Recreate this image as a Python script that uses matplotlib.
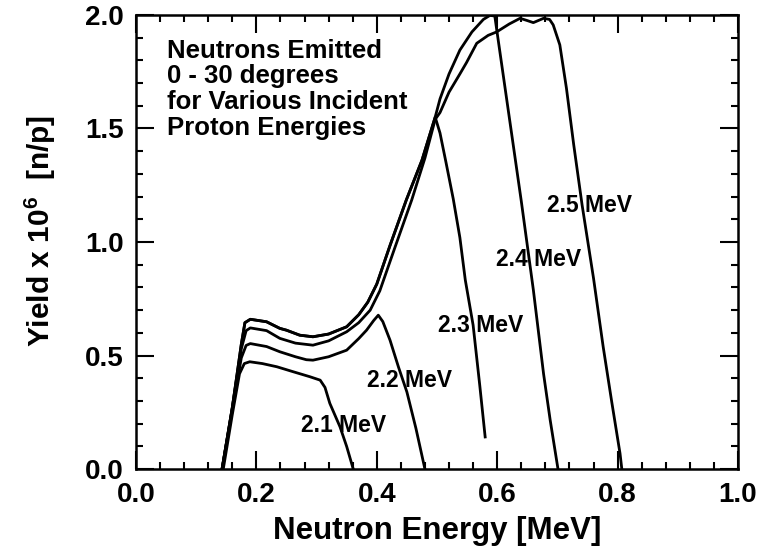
import matplotlib
matplotlib.use("Agg")
import matplotlib.pyplot as plt
from matplotlib.ticker import MultipleLocator

plt.rcParams["font.family"] = ["Liberation Sans", "DejaVu Sans"]
plt.rcParams["font.weight"] = "bold"
plt.rcParams["mathtext.fontset"] = "custom"
plt.rcParams["mathtext.rm"] = "Liberation Sans:bold"
plt.rcParams["mathtext.default"] = "rm"

# neutron yield spectra, 0-30 deg, per incident proton energy
e21 = [0.145, 0.160, 0.172, 0.180, 0.189, 0.210, 0.234, 0.260, 0.289, 0.306,
       0.314, 0.322, 0.339, 0.350, 0.361]
y21 = [0.0, 0.24, 0.42, 0.465, 0.473, 0.465, 0.451, 0.43, 0.407, 0.392,
       0.36, 0.29, 0.186, 0.10, 0.0]

e22 = [0.143, 0.160, 0.175, 0.183, 0.190, 0.217, 0.239, 0.265, 0.283, 0.294,
       0.320, 0.350, 0.370, 0.383, 0.395, 0.4025, 0.410, 0.422, 0.436, 0.450,
       0.465, 0.480]
y22 = [0.0, 0.26, 0.49, 0.545, 0.553, 0.54, 0.517, 0.495, 0.482, 0.48,
       0.495, 0.524, 0.575, 0.612, 0.655, 0.678, 0.65, 0.568, 0.45, 0.34,
       0.18, 0.0]

e23 = [0.143, 0.160, 0.175, 0.181, 0.190, 0.217, 0.239, 0.250, 0.272, 0.294,
       0.320, 0.350, 0.370, 0.385, 0.400, 0.422, 0.449, 0.475, 0.497,
       0.505, 0.515, 0.527, 0.538, 0.547, 0.560, 0.571, 0.580]
y23 = [0.0, 0.27, 0.55, 0.645, 0.66, 0.649, 0.62, 0.612, 0.59, 0.583,
       0.595, 0.627, 0.68, 0.735, 0.815, 0.985, 1.185, 1.36, 1.55,
       1.48, 1.35, 1.19, 1.02, 0.833, 0.634, 0.37, 0.142]

e24 = [0.143, 0.160, 0.175, 0.181, 0.190, 0.217, 0.239, 0.250, 0.272, 0.294,
       0.320, 0.350, 0.370, 0.385, 0.400, 0.422, 0.449, 0.475, 0.497,
       0.505, 0.520, 0.538, 0.558, 0.577, 0.588, 0.596, 0.600, 0.620, 0.640,
       0.660, 0.677, 0.688, 0.701]
y24 = [0.0, 0.27, 0.55, 0.645, 0.66, 0.649, 0.62, 0.612, 0.59, 0.583,
       0.595, 0.627, 0.68, 0.735, 0.815, 0.985, 1.185, 1.36, 1.55,
       1.63, 1.74, 1.845, 1.925, 1.98, 1.998, 1.995, 1.92, 1.55, 1.18,
       0.79, 0.42, 0.216, 0.0]

e25 = [0.143, 0.160, 0.175, 0.183, 0.190, 0.217, 0.239, 0.265, 0.294, 0.320,
       0.350, 0.370, 0.389, 0.405, 0.430, 0.458, 0.480, 0.497, 0.505, 0.520,
       0.538, 0.549, 0.566, 0.585, 0.599, 0.620, 0.638, 0.650, 0.660, 0.677,
       0.687, 0.693, 0.704, 0.715, 0.727, 0.741, 0.760, 0.776, 0.790, 0.804,
       0.807]
y25 = [0.0, 0.27, 0.53, 0.61, 0.622, 0.61, 0.576, 0.555, 0.546, 0.565,
       0.605, 0.645, 0.70, 0.785, 0.975, 1.185, 1.37, 1.54, 1.57, 1.66,
       1.74, 1.79, 1.875, 1.91, 1.925, 1.96, 1.985, 1.975, 1.966, 1.985,
       1.98, 1.956, 1.868, 1.677, 1.43, 1.163, 0.84, 0.539, 0.30, 0.069,
       0.0]

curves = [(e21, y21), (e22, y22), (e23, y23), (e24, y24), (e25, y25)]
labels = ["2.1 MeV", "2.2 MeV", "2.3 MeV", "2.4 MeV", "2.5 MeV"]
label_xy = [(0.345, 0.194), (0.454, 0.392), (0.572, 0.634),
            (0.668, 0.921), (0.754, 1.163)]

fig = plt.figure(figsize=(7.68, 5.52), dpi=100)
ax = fig.add_axes([0.177, 0.150, 0.784, 0.823])

for e, y in curves:
    ax.plot(e, y, color="black", lw=2.0, solid_joinstyle="round")

for lab, (lx, ly) in zip(labels, label_xy):
    ax.text(lx, ly, lab, ha="center", va="center", fontsize=16.5,
            fontweight="bold")

ax.text(0.052, 0.948, "Neutrons Emitted\n0 - 30 degrees\nfor Various Incident\nProton Energies",
        transform=ax.transAxes, ha="left", va="top", fontsize=18.5,
        fontweight="bold", linespacing=1.1)

ax.set_xlim(0, 1.0)
ax.set_ylim(0, 2.0)
ax.xaxis.set_major_locator(MultipleLocator(0.2))
ax.xaxis.set_minor_locator(MultipleLocator(0.04))
ax.yaxis.set_major_locator(MultipleLocator(0.5))
ax.yaxis.set_minor_locator(MultipleLocator(0.1))
ax.xaxis.set_major_formatter(plt.FormatStrFormatter("%.1f"))
ax.yaxis.set_major_formatter(plt.FormatStrFormatter("%.1f"))
ax.tick_params(which="both", direction="in", top=True, right=True,
               width=1.5, labelsize=20)
ax.tick_params(which="major", length=13, pad=9)
ax.tick_params(which="minor", length=5)
for sp in ax.spines.values():
    sp.set_linewidth(1.8)

ax.set_xlabel("Neutron Energy [MeV]", fontsize=22.5, fontweight="bold", labelpad=6)
ax.set_ylabel("Yield x 10$^{6}$  [n/p]", fontsize=21.5, fontweight="bold")
ax.yaxis.set_label_coords(-0.13, 0.525)

fig.savefig("out.png", dpi=100)
